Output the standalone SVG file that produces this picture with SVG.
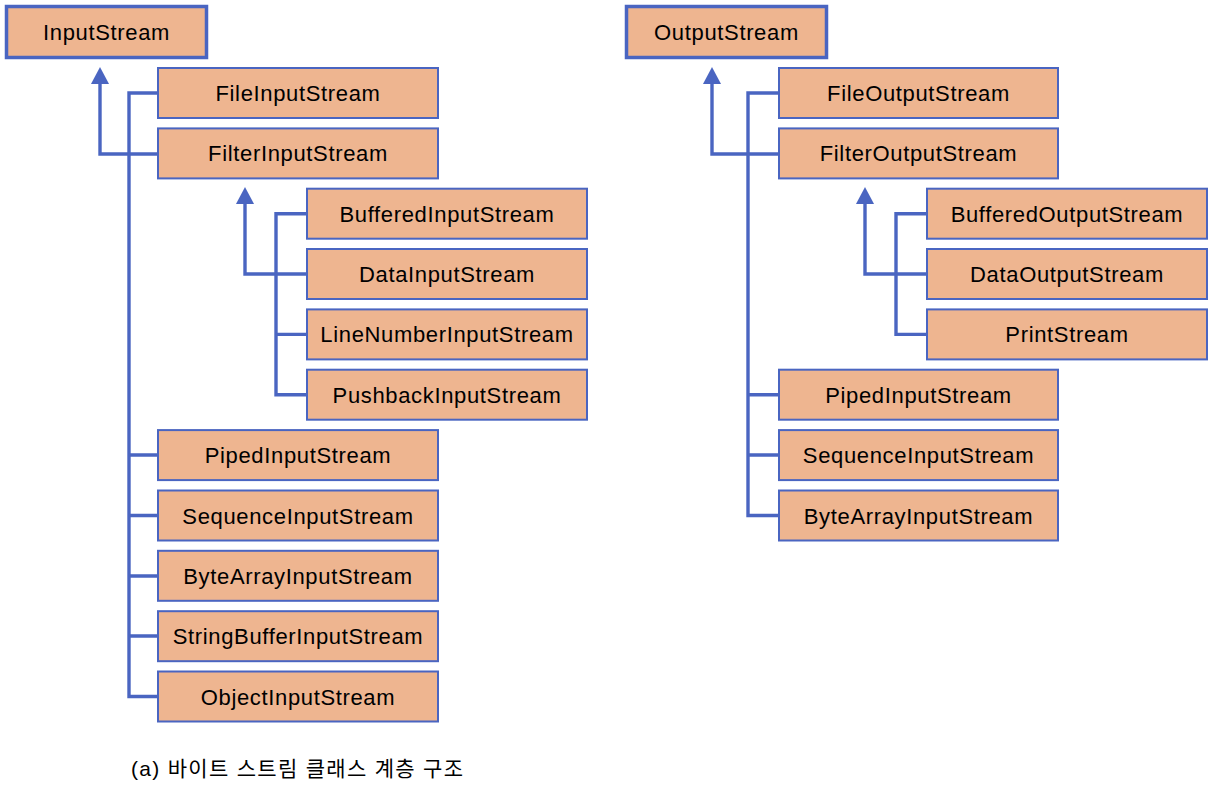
<svg xmlns="http://www.w3.org/2000/svg" width="1215" height="790" viewBox="0 0 1215 790">
<style>
.root rect{fill:#EEB590;stroke:#4A65C1;stroke-width:3.5}
.n rect{fill:#EEB590;stroke:#4A65C1;stroke-width:2}
text{font-family:"Liberation Sans",Arial,sans-serif;font-size:22px;fill:#000;text-anchor:middle;letter-spacing:0.65px}
.c path{fill:none;stroke:#4A65C1;stroke-width:3.4}
.cap{font-family:"Liberation Sans","Noto Sans CJK KR",sans-serif;font-size:21px;text-anchor:start;letter-spacing:1.3px}
</style>
<defs>
<marker id="ah" viewBox="0 0 17 18" refX="0" refY="9" markerWidth="17" markerHeight="18" markerUnits="userSpaceOnUse" orient="auto">
<path d="M0,0 L17,9 L0,18 z" fill="#4A65C1"/>
</marker>
</defs>
<g class="c" id="connectors">
<path d="M158,154 H100 V84" marker-end="url(#ah)"/>
<path d="M158,93 H129 V696.5 H158"/>
<path d="M129,455 H158 M129,515.5 H158 M129,576 H158 M129,636 H158"/>
<path d="M307,274 H245 V204" marker-end="url(#ah)"/>
<path d="M307,213.7 H276 V394.7 H307 M276,334.4 H307"/>
<path d="M779,154 H712 V84" marker-end="url(#ah)"/>
<path d="M779,93 H748 V515.5 H779 M748,394.7 H779 M748,455 H779"/>
<path d="M927,274 H865 V204" marker-end="url(#ah)"/>
<path d="M927,213.7 H896 V334.4 H927"/>
</g>
<g class="root" id="InputStream"><rect x="6.5" y="6.5" width="200" height="51"/><text x="106.5" y="40">InputStream</text></g>
<g class="n" id="FileInputStream"><rect x="158" y="68" width="280" height="50"/><text x="298" y="101">FileInputStream</text></g>
<g class="n" id="FilterInputStream"><rect x="158" y="128.4" width="280" height="50"/><text x="298" y="161.4">FilterInputStream</text></g>
<g class="n" id="BufferedInputStream"><rect x="307" y="188.7" width="280" height="50"/><text x="447" y="221.7">BufferedInputStream</text></g>
<g class="n" id="DataInputStream"><rect x="307" y="249" width="280" height="50"/><text x="447" y="282">DataInputStream</text></g>
<g class="n" id="LineNumberInputStream"><rect x="307" y="309.4" width="280" height="50"/><text x="447" y="342.4">LineNumberInputStream</text></g>
<g class="n" id="PushbackInputStream"><rect x="307" y="369.7" width="280" height="50"/><text x="447" y="402.7">PushbackInputStream</text></g>
<g class="n" id="PipedInputStream"><rect x="158" y="430.1" width="280" height="50"/><text x="298" y="463.1">PipedInputStream</text></g>
<g class="n" id="SequenceInputStream"><rect x="158" y="490.5" width="280" height="50"/><text x="298" y="523.5">SequenceInputStream</text></g>
<g class="n" id="ByteArrayInputStream"><rect x="158" y="550.8" width="280" height="50"/><text x="298" y="583.8">ByteArrayInputStream</text></g>
<g class="n" id="StringBufferInputStream"><rect x="158" y="611.2" width="280" height="50"/><text x="298" y="644.2">StringBufferInputStream</text></g>
<g class="n" id="ObjectInputStream"><rect x="158" y="671.5" width="280" height="50"/><text x="298" y="704.5">ObjectInputStream</text></g>
<g class="root" id="OutputStream"><rect x="626.5" y="6.5" width="200" height="51"/><text x="726.5" y="40">OutputStream</text></g>
<g class="n" id="FileOutputStream"><rect x="779" y="68" width="279" height="50"/><text x="918.5" y="101">FileOutputStream</text></g>
<g class="n" id="FilterOutputStream"><rect x="779" y="128.4" width="279" height="50"/><text x="918.5" y="161.4">FilterOutputStream</text></g>
<g class="n" id="BufferedOutputStream"><rect x="927" y="188.7" width="280" height="50"/><text x="1067" y="221.7">BufferedOutputStream</text></g>
<g class="n" id="DataOutputStream"><rect x="927" y="249" width="280" height="50"/><text x="1067" y="282">DataOutputStream</text></g>
<g class="n" id="PrintStream"><rect x="927" y="309.4" width="280" height="50"/><text x="1067" y="342.4">PrintStream</text></g>
<g class="n" id="PipedInputStream2"><rect x="779" y="369.7" width="279" height="50"/><text x="918.5" y="402.7">PipedInputStream</text></g>
<g class="n" id="SequenceInputStream2"><rect x="779" y="430.1" width="279" height="50"/><text x="918.5" y="463.1">SequenceInputStream</text></g>
<g class="n" id="ByteArrayInputStream2"><rect x="779" y="490.5" width="279" height="50"/><text x="918.5" y="523.5">ByteArrayInputStream</text></g>
<text class="cap" x="131" y="776">(a) 바이트 스트림 클래스 계층 구조</text>
</svg>
